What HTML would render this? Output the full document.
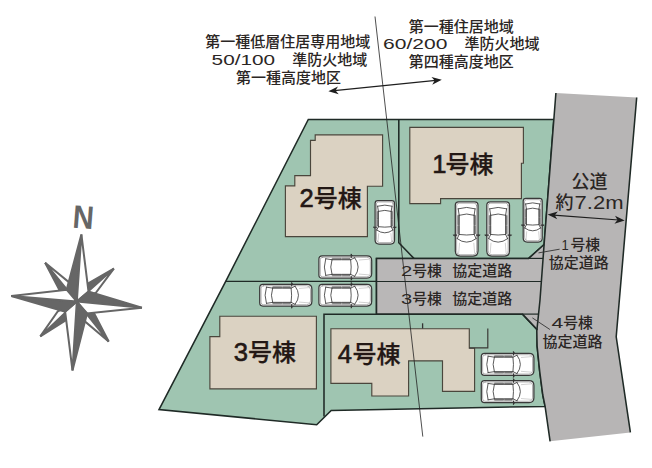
<!DOCTYPE html>
<html lang="ja"><head><meta charset="utf-8"><title>区画図</title>
<style>
html,body{margin:0;padding:0;background:#fff;}
body{width:652px;height:468px;overflow:hidden;}
svg{display:block;font-family:'Liberation Sans','Noto Sans CJK JP',sans-serif;}
</style></head><body>
<svg width="652" height="468" viewBox="0 0 652 468">
<rect width="652" height="468" fill="#fff"/>
<polygon points="308.30,119.40 553.84,119.40 544.10,244.50 528.70,258.40 376.50,258.40 376.50,314.10 522.50,314.10 537.40,329.90 537.10,346.00 539.70,371.30 542.80,395.00 545.10,406.40 331.20,410.40 316.70,424.70 159.00,409.60 225.70,281.30" fill="#9fc5b1" stroke="#1f2a26" stroke-width="1.55" stroke-linejoin="miter"/>
<polygon points="555.90,93.00 636.70,97.50 616.20,336.80 630.40,432.40 550.10,441.30 545.10,406.40 542.80,395.00 539.70,371.30 537.10,346.00 536.80,331.00 540.00,300.00 544.10,244.50" fill="#b7b5b5"/>
<polygon points="376.50,258.40 528.70,258.40 544.10,244.50 540.00,300.00 537.40,329.90 522.50,314.10 376.50,314.10" fill="#b9b7b7"/>
<polyline points="555.90,93.00 544.10,244.50 540.00,300.00 536.80,331.00 537.10,346.00 539.70,371.30 542.80,395.00 545.10,406.40 550.10,441.30" fill="none" stroke="#1f2a26" stroke-width="1.55"/>
<polyline points="636.70,97.50 616.20,336.80 630.40,432.40" fill="none" stroke="#1f2a26" stroke-width="1.55"/>
<polyline points="544.10,244.50 528.70,258.40 376.50,258.40 376.50,314.10 522.50,314.10 537.40,329.90" fill="none" stroke="#1f2a26" stroke-width="1.55"/>
<line x1="528.7" y1="258.4" x2="543.07" y2="258.4" stroke="#1f2a26" stroke-width="1.2"/>
<line x1="522.5" y1="314.1" x2="538.54" y2="314.1" stroke="#1f2a26" stroke-width="1.2"/>
<line x1="376.5" y1="281.5" x2="541.37" y2="281.5" stroke="#1f2a26" stroke-width="1.1"/>
<polyline points="398.80,119.40 398.80,242.70 413.90,258.40" fill="none" stroke="#1f2a26" stroke-width="1.55"/>
<line x1="225.70" y1="281.3" x2="376.5" y2="281.3" stroke="#1f2a26" stroke-width="1.2"/>
<polyline points="376.50,314.30 324.00,314.30 324.00,416.60" fill="none" stroke="#1f2a26" stroke-width="1.55"/>
<polygon points="409.80,127.40 523.40,127.40 523.40,163.20 521.40,163.20 521.40,198.60 440.60,198.60 440.60,203.60 409.80,203.60" fill="#dbd2c2" stroke="#4a463c" stroke-width="1.15"/>
<polygon points="315.20,134.80 382.60,134.80 382.60,186.20 367.40,186.20 367.40,236.60 285.40,236.60 285.40,185.80 294.80,185.80 294.80,175.60 310.50,175.60 310.50,140.30 315.20,140.30" fill="#dbd2c2" stroke="#4a463c" stroke-width="1.15"/>
<polygon points="219.80,316.20 316.40,316.20 316.40,388.90 209.90,388.90 209.90,336.60 219.80,336.60" fill="#dbd2c2" stroke="#4a463c" stroke-width="1.15"/>
<polygon points="330.90,328.70 469.30,328.70 469.30,348.20 474.60,348.20 474.60,391.30 442.50,391.30 442.50,360.80 408.60,360.80 408.60,396.00 371.80,396.00 371.80,383.40 330.90,383.40" fill="#dbd2c2" stroke="#4a463c" stroke-width="1.15"/>
<polyline points="487.80,328.50 487.80,347.80 469.30,347.80" fill="none" stroke="#3a3a36" stroke-width="1.2"/>
<line x1="422.6" y1="323.3" x2="422.6" y2="328.5" stroke="#333" stroke-width="1.3"/>
<g transform="translate(478.00,201.80) rotate(90)" fill="none" stroke-linecap="round" stroke-linejoin="round"><path d="M3.39,0.00 L49.32,0.00 Q54.30,0.00 54.30,4.98 L54.30,17.72 Q54.30,22.70 49.32,22.70 L3.39,22.70 Q0.00,22.70 0.00,19.31 L0.00,3.39 Q0.00,0.00 3.39,0.00 Z" fill="#fff" stroke="#3a3a3a" stroke-width="1.25"/><path d="M3.93,1.35 L48.78,1.35 Q52.95,1.35 52.95,5.52 L52.95,17.18 Q52.95,21.35 48.78,21.35 L3.93,21.35 Q1.35,21.35 1.35,18.77 L1.35,3.93 Q1.35,1.35 3.93,1.35 Z" stroke="#7a7a7a" stroke-width="0.6"/><path d="M13.95,2.39 L22.92,2.39 L22.92,3.88 L13.95,3.88Z" fill="#8f8f8f" stroke="#4a4a4a" stroke-width="0.45"/><path d="M24.11,2.39 L31.88,2.39 L31.88,3.88 L24.11,3.88Z" fill="#8f8f8f" stroke="#4a4a4a" stroke-width="0.45"/><path d="M13.95,18.82 L22.92,18.82 L22.92,20.31 L13.95,20.31Z" fill="#8f8f8f" stroke="#4a4a4a" stroke-width="0.45"/><path d="M24.11,18.82 L31.88,18.82 L31.88,20.31 L24.11,20.31Z" fill="#8f8f8f" stroke="#4a4a4a" stroke-width="0.45"/><path d="M6.97,2.89 Q4.18,11.35 6.97,19.81" stroke="#3d3d3d" stroke-width="0.85" fill="none"/><path d="M13.45,3.88 Q10.86,11.35 13.45,18.82" stroke="#3d3d3d" stroke-width="0.85" fill="none"/><path d="M6.97,2.89 L13.45,3.88" stroke="#3d3d3d" stroke-width="0.85" fill="none"/><path d="M6.97,19.81 L13.45,18.82" stroke="#3d3d3d" stroke-width="0.85" fill="none"/><path d="M13.45,3.88 L32.68,3.88" stroke="#444" stroke-width="0.8" fill="none"/><path d="M13.45,18.82 L32.68,18.82" stroke="#444" stroke-width="0.8" fill="none"/><path d="M32.68,3.88 Q33.78,11.35 32.68,18.82" stroke="#3d3d3d" stroke-width="0.85" fill="none"/><path d="M36.86,1.89 Q44.04,11.35 36.86,20.81" stroke="#3d3d3d" stroke-width="0.85" fill="none"/><path d="M32.68,3.88 L36.86,1.89" stroke="#3d3d3d" stroke-width="0.85" fill="none"/><path d="M32.68,18.82 L36.86,20.81" stroke="#3d3d3d" stroke-width="0.85" fill="none"/><path d="M41.35,4.18 L51.31,3.39" stroke="#a5a5a5" stroke-width="0.5" fill="none"/><path d="M41.35,18.52 L51.31,19.31" stroke="#a5a5a5" stroke-width="0.5" fill="none"/><path d="M33.28,-1.69 L33.28,1.59" stroke="#333" stroke-width="1.1" fill="none"/><path d="M33.28,24.39 L33.28,21.11" stroke="#333" stroke-width="1.1" fill="none"/><path d="M33.28,-1.69 L34.67,-0.30" stroke="#333" stroke-width="0.7" fill="none"/><path d="M33.28,24.39 L34.67,23.00" stroke="#333" stroke-width="0.7" fill="none"/></g>
<g transform="translate(509.50,201.80) rotate(90)" fill="none" stroke-linecap="round" stroke-linejoin="round"><path d="M3.39,0.00 L49.32,0.00 Q54.30,0.00 54.30,4.98 L54.30,17.72 Q54.30,22.70 49.32,22.70 L3.39,22.70 Q0.00,22.70 0.00,19.31 L0.00,3.39 Q0.00,0.00 3.39,0.00 Z" fill="#fff" stroke="#3a3a3a" stroke-width="1.25"/><path d="M3.93,1.35 L48.78,1.35 Q52.95,1.35 52.95,5.52 L52.95,17.18 Q52.95,21.35 48.78,21.35 L3.93,21.35 Q1.35,21.35 1.35,18.77 L1.35,3.93 Q1.35,1.35 3.93,1.35 Z" stroke="#7a7a7a" stroke-width="0.6"/><path d="M13.95,2.39 L22.92,2.39 L22.92,3.88 L13.95,3.88Z" fill="#8f8f8f" stroke="#4a4a4a" stroke-width="0.45"/><path d="M24.11,2.39 L31.88,2.39 L31.88,3.88 L24.11,3.88Z" fill="#8f8f8f" stroke="#4a4a4a" stroke-width="0.45"/><path d="M13.95,18.82 L22.92,18.82 L22.92,20.31 L13.95,20.31Z" fill="#8f8f8f" stroke="#4a4a4a" stroke-width="0.45"/><path d="M24.11,18.82 L31.88,18.82 L31.88,20.31 L24.11,20.31Z" fill="#8f8f8f" stroke="#4a4a4a" stroke-width="0.45"/><path d="M6.97,2.89 Q4.18,11.35 6.97,19.81" stroke="#3d3d3d" stroke-width="0.85" fill="none"/><path d="M13.45,3.88 Q10.86,11.35 13.45,18.82" stroke="#3d3d3d" stroke-width="0.85" fill="none"/><path d="M6.97,2.89 L13.45,3.88" stroke="#3d3d3d" stroke-width="0.85" fill="none"/><path d="M6.97,19.81 L13.45,18.82" stroke="#3d3d3d" stroke-width="0.85" fill="none"/><path d="M13.45,3.88 L32.68,3.88" stroke="#444" stroke-width="0.8" fill="none"/><path d="M13.45,18.82 L32.68,18.82" stroke="#444" stroke-width="0.8" fill="none"/><path d="M32.68,3.88 Q33.78,11.35 32.68,18.82" stroke="#3d3d3d" stroke-width="0.85" fill="none"/><path d="M36.86,1.89 Q44.04,11.35 36.86,20.81" stroke="#3d3d3d" stroke-width="0.85" fill="none"/><path d="M32.68,3.88 L36.86,1.89" stroke="#3d3d3d" stroke-width="0.85" fill="none"/><path d="M32.68,18.82 L36.86,20.81" stroke="#3d3d3d" stroke-width="0.85" fill="none"/><path d="M41.35,4.18 L51.31,3.39" stroke="#a5a5a5" stroke-width="0.5" fill="none"/><path d="M41.35,18.52 L51.31,19.31" stroke="#a5a5a5" stroke-width="0.5" fill="none"/><path d="M33.28,-1.69 L33.28,1.59" stroke="#333" stroke-width="1.1" fill="none"/><path d="M33.28,24.39 L33.28,21.11" stroke="#333" stroke-width="1.1" fill="none"/><path d="M33.28,-1.69 L34.67,-0.30" stroke="#333" stroke-width="0.7" fill="none"/><path d="M33.28,24.39 L34.67,23.00" stroke="#333" stroke-width="0.7" fill="none"/></g>
<g transform="translate(542.20,198.30) rotate(90)" fill="none" stroke-linecap="round" stroke-linejoin="round"><path d="M2.73,0.00 L39.78,0.00 Q43.80,0.00 43.80,4.02 L43.80,14.98 Q43.80,19.00 39.78,19.00 L2.73,19.00 Q0.00,19.00 0.00,16.27 L0.00,2.73 Q0.00,0.00 2.73,0.00 Z" fill="#fff" stroke="#3a3a3a" stroke-width="1.25"/><path d="M3.27,1.35 L39.24,1.35 Q42.45,1.35 42.45,4.56 L42.45,14.44 Q42.45,17.65 39.24,17.65 L3.27,17.65 Q1.35,17.65 1.35,15.73 L1.35,3.27 Q1.35,1.35 3.27,1.35 Z" stroke="#7a7a7a" stroke-width="0.6"/><path d="M11.25,2.00 L18.48,2.00 L18.48,3.25 L11.25,3.25Z" fill="#8f8f8f" stroke="#4a4a4a" stroke-width="0.45"/><path d="M19.45,2.00 L25.72,2.00 L25.72,3.25 L19.45,3.25Z" fill="#8f8f8f" stroke="#4a4a4a" stroke-width="0.45"/><path d="M11.25,15.75 L18.48,15.75 L18.48,17.00 L11.25,17.00Z" fill="#8f8f8f" stroke="#4a4a4a" stroke-width="0.45"/><path d="M19.45,15.75 L25.72,15.75 L25.72,17.00 L19.45,17.00Z" fill="#8f8f8f" stroke="#4a4a4a" stroke-width="0.45"/><path d="M5.63,2.42 Q3.38,9.50 5.63,16.58" stroke="#3d3d3d" stroke-width="0.85" fill="none"/><path d="M10.85,3.25 Q8.76,9.50 10.85,15.75" stroke="#3d3d3d" stroke-width="0.85" fill="none"/><path d="M5.63,2.42 L10.85,3.25" stroke="#3d3d3d" stroke-width="0.85" fill="none"/><path d="M5.63,16.58 L10.85,15.75" stroke="#3d3d3d" stroke-width="0.85" fill="none"/><path d="M10.85,3.25 L26.36,3.25" stroke="#444" stroke-width="0.8" fill="none"/><path d="M10.85,15.75 L26.36,15.75" stroke="#444" stroke-width="0.8" fill="none"/><path d="M26.36,3.25 Q27.24,9.50 26.36,15.75" stroke="#3d3d3d" stroke-width="0.85" fill="none"/><path d="M29.74,1.58 Q35.52,9.50 29.74,17.42" stroke="#3d3d3d" stroke-width="0.85" fill="none"/><path d="M26.36,3.25 L29.74,1.58" stroke="#3d3d3d" stroke-width="0.85" fill="none"/><path d="M26.36,15.75 L29.74,17.42" stroke="#3d3d3d" stroke-width="0.85" fill="none"/><path d="M33.35,3.50 L41.39,2.83" stroke="#a5a5a5" stroke-width="0.5" fill="none"/><path d="M33.35,15.50 L41.39,16.17" stroke="#a5a5a5" stroke-width="0.5" fill="none"/><path d="M26.84,-1.42 L26.84,1.33" stroke="#333" stroke-width="1.1" fill="none"/><path d="M26.84,20.42 L26.84,17.67" stroke="#333" stroke-width="1.1" fill="none"/><path d="M26.84,-1.42 L27.97,-0.25" stroke="#333" stroke-width="0.7" fill="none"/><path d="M26.84,20.42 L27.97,19.25" stroke="#333" stroke-width="0.7" fill="none"/></g>
<g transform="translate(394.50,200.60) rotate(90)" fill="none" stroke-linecap="round" stroke-linejoin="round"><path d="M2.71,0.00 L39.42,0.00 Q43.40,0.00 43.40,3.98 L43.40,15.42 Q43.40,19.40 39.42,19.40 L2.71,19.40 Q0.00,19.40 0.00,16.69 L0.00,2.71 Q0.00,0.00 2.71,0.00 Z" fill="#fff" stroke="#3a3a3a" stroke-width="1.25"/><path d="M3.25,1.35 L38.88,1.35 Q42.05,1.35 42.05,4.52 L42.05,14.88 Q42.05,18.05 38.88,18.05 L3.25,18.05 Q1.35,18.05 1.35,16.15 L1.35,3.25 Q1.35,1.35 3.25,1.35 Z" stroke="#7a7a7a" stroke-width="0.6"/><path d="M11.15,2.04 L18.32,2.04 L18.32,3.32 L11.15,3.32Z" fill="#8f8f8f" stroke="#4a4a4a" stroke-width="0.45"/><path d="M19.27,2.04 L25.48,2.04 L25.48,3.32 L19.27,3.32Z" fill="#8f8f8f" stroke="#4a4a4a" stroke-width="0.45"/><path d="M11.15,16.08 L18.32,16.08 L18.32,17.36 L11.15,17.36Z" fill="#8f8f8f" stroke="#4a4a4a" stroke-width="0.45"/><path d="M19.27,16.08 L25.48,16.08 L25.48,17.36 L19.27,17.36Z" fill="#8f8f8f" stroke="#4a4a4a" stroke-width="0.45"/><path d="M5.57,2.47 Q3.34,9.70 5.57,16.93" stroke="#3d3d3d" stroke-width="0.85" fill="none"/><path d="M10.75,3.32 Q8.68,9.70 10.75,16.08" stroke="#3d3d3d" stroke-width="0.85" fill="none"/><path d="M5.57,2.47 L10.75,3.32" stroke="#3d3d3d" stroke-width="0.85" fill="none"/><path d="M5.57,16.93 L10.75,16.08" stroke="#3d3d3d" stroke-width="0.85" fill="none"/><path d="M10.75,3.32 L26.12,3.32" stroke="#444" stroke-width="0.8" fill="none"/><path d="M10.75,16.08 L26.12,16.08" stroke="#444" stroke-width="0.8" fill="none"/><path d="M26.12,3.32 Q27.00,9.70 26.12,16.08" stroke="#3d3d3d" stroke-width="0.85" fill="none"/><path d="M29.46,1.62 Q35.20,9.70 29.46,17.78" stroke="#3d3d3d" stroke-width="0.85" fill="none"/><path d="M26.12,3.32 L29.46,1.62" stroke="#3d3d3d" stroke-width="0.85" fill="none"/><path d="M26.12,16.08 L29.46,17.78" stroke="#3d3d3d" stroke-width="0.85" fill="none"/><path d="M33.05,3.57 L41.01,2.89" stroke="#a5a5a5" stroke-width="0.5" fill="none"/><path d="M33.05,15.83 L41.01,16.51" stroke="#a5a5a5" stroke-width="0.5" fill="none"/><path d="M26.60,-1.45 L26.60,1.36" stroke="#333" stroke-width="1.1" fill="none"/><path d="M26.60,20.85 L26.60,18.04" stroke="#333" stroke-width="1.1" fill="none"/><path d="M26.60,-1.45 L27.71,-0.26" stroke="#333" stroke-width="0.7" fill="none"/><path d="M26.60,20.85 L27.71,19.66" stroke="#333" stroke-width="0.7" fill="none"/></g>
<g transform="translate(318.90,255.90)" fill="none" stroke-linecap="round" stroke-linejoin="round"><path d="M3.29,0.00 L47.96,0.00 Q52.80,0.00 52.80,4.84 L52.80,17.46 Q52.80,22.30 47.96,22.30 L3.29,22.30 Q0.00,22.30 0.00,19.01 L0.00,3.29 Q0.00,0.00 3.29,0.00 Z" fill="#fff" stroke="#3a3a3a" stroke-width="1.25"/><path d="M3.83,1.35 L47.42,1.35 Q51.45,1.35 51.45,5.38 L51.45,16.92 Q51.45,20.95 47.42,20.95 L3.83,20.95 Q1.35,20.95 1.35,18.47 L1.35,3.83 Q1.35,1.35 3.83,1.35 Z" stroke="#7a7a7a" stroke-width="0.6"/><path d="M13.56,2.35 L22.28,2.35 L22.28,3.81 L13.56,3.81Z" fill="#8f8f8f" stroke="#4a4a4a" stroke-width="0.45"/><path d="M23.45,2.35 L31.00,2.35 L31.00,3.81 L23.45,3.81Z" fill="#8f8f8f" stroke="#4a4a4a" stroke-width="0.45"/><path d="M13.56,18.49 L22.28,18.49 L22.28,19.95 L13.56,19.95Z" fill="#8f8f8f" stroke="#4a4a4a" stroke-width="0.45"/><path d="M23.45,18.49 L31.00,18.49 L31.00,19.95 L23.45,19.95Z" fill="#8f8f8f" stroke="#4a4a4a" stroke-width="0.45"/><path d="M6.78,2.84 Q4.07,11.15 6.78,19.46" stroke="#3d3d3d" stroke-width="0.85" fill="none"/><path d="M13.08,3.81 Q10.56,11.15 13.08,18.49" stroke="#3d3d3d" stroke-width="0.85" fill="none"/><path d="M6.78,2.84 L13.08,3.81" stroke="#3d3d3d" stroke-width="0.85" fill="none"/><path d="M6.78,19.46 L13.08,18.49" stroke="#3d3d3d" stroke-width="0.85" fill="none"/><path d="M13.08,3.81 L31.78,3.81" stroke="#444" stroke-width="0.8" fill="none"/><path d="M13.08,18.49 L31.78,18.49" stroke="#444" stroke-width="0.8" fill="none"/><path d="M31.78,3.81 Q32.84,11.15 31.78,18.49" stroke="#3d3d3d" stroke-width="0.85" fill="none"/><path d="M35.85,1.86 Q42.82,11.15 35.85,20.44" stroke="#3d3d3d" stroke-width="0.85" fill="none"/><path d="M31.78,3.81 L35.85,1.86" stroke="#3d3d3d" stroke-width="0.85" fill="none"/><path d="M31.78,18.49 L35.85,20.44" stroke="#3d3d3d" stroke-width="0.85" fill="none"/><path d="M40.21,4.11 L49.89,3.33" stroke="#a5a5a5" stroke-width="0.5" fill="none"/><path d="M40.21,18.19 L49.89,18.97" stroke="#a5a5a5" stroke-width="0.5" fill="none"/><path d="M32.36,-1.66 L32.36,1.56" stroke="#333" stroke-width="1.1" fill="none"/><path d="M32.36,23.96 L32.36,20.74" stroke="#333" stroke-width="1.1" fill="none"/><path d="M32.36,-1.66 L33.71,-0.29" stroke="#333" stroke-width="0.7" fill="none"/><path d="M32.36,23.96 L33.71,22.59" stroke="#333" stroke-width="0.7" fill="none"/></g>
<g transform="translate(259.70,284.40)" fill="none" stroke-linecap="round" stroke-linejoin="round"><path d="M3.24,0.00 L47.44,0.00 Q52.20,0.00 52.20,4.76 L52.20,16.94 Q52.20,21.70 47.44,21.70 L3.24,21.70 Q0.00,21.70 0.00,18.46 L0.00,3.24 Q0.00,0.00 3.24,0.00 Z" fill="#fff" stroke="#3a3a3a" stroke-width="1.25"/><path d="M3.78,1.35 L46.90,1.35 Q50.85,1.35 50.85,5.30 L50.85,16.40 Q50.85,20.35 46.90,20.35 L3.78,20.35 Q1.35,20.35 1.35,17.92 L1.35,3.78 Q1.35,1.35 3.78,1.35 Z" stroke="#7a7a7a" stroke-width="0.6"/><path d="M13.41,2.28 L22.03,2.28 L22.03,3.71 L13.41,3.71Z" fill="#8f8f8f" stroke="#4a4a4a" stroke-width="0.45"/><path d="M23.18,2.28 L30.65,2.28 L30.65,3.71 L23.18,3.71Z" fill="#8f8f8f" stroke="#4a4a4a" stroke-width="0.45"/><path d="M13.41,17.99 L22.03,17.99 L22.03,19.42 L13.41,19.42Z" fill="#8f8f8f" stroke="#4a4a4a" stroke-width="0.45"/><path d="M23.18,17.99 L30.65,17.99 L30.65,19.42 L23.18,19.42Z" fill="#8f8f8f" stroke="#4a4a4a" stroke-width="0.45"/><path d="M6.70,2.76 Q4.02,10.85 6.70,18.94" stroke="#3d3d3d" stroke-width="0.85" fill="none"/><path d="M12.93,3.71 Q10.44,10.85 12.93,17.99" stroke="#3d3d3d" stroke-width="0.85" fill="none"/><path d="M6.70,2.76 L12.93,3.71" stroke="#3d3d3d" stroke-width="0.85" fill="none"/><path d="M6.70,18.94 L12.93,17.99" stroke="#3d3d3d" stroke-width="0.85" fill="none"/><path d="M12.93,3.71 L31.42,3.71" stroke="#444" stroke-width="0.8" fill="none"/><path d="M12.93,17.99 L31.42,17.99" stroke="#444" stroke-width="0.8" fill="none"/><path d="M31.42,3.71 Q32.47,10.85 31.42,17.99" stroke="#3d3d3d" stroke-width="0.85" fill="none"/><path d="M35.44,1.81 Q42.33,10.85 35.44,19.89" stroke="#3d3d3d" stroke-width="0.85" fill="none"/><path d="M31.42,3.71 L35.44,1.81" stroke="#3d3d3d" stroke-width="0.85" fill="none"/><path d="M31.42,17.99 L35.44,19.89" stroke="#3d3d3d" stroke-width="0.85" fill="none"/><path d="M39.75,4.00 L49.33,3.24" stroke="#a5a5a5" stroke-width="0.5" fill="none"/><path d="M39.75,17.70 L49.33,18.46" stroke="#a5a5a5" stroke-width="0.5" fill="none"/><path d="M31.99,-1.62 L31.99,1.52" stroke="#333" stroke-width="1.1" fill="none"/><path d="M31.99,23.32 L31.99,20.18" stroke="#333" stroke-width="1.1" fill="none"/><path d="M31.99,-1.62 L33.33,-0.29" stroke="#333" stroke-width="0.7" fill="none"/><path d="M31.99,23.32 L33.33,21.99" stroke="#333" stroke-width="0.7" fill="none"/></g>
<g transform="translate(318.90,284.40)" fill="none" stroke-linecap="round" stroke-linejoin="round"><path d="M3.24,0.00 L48.04,0.00 Q52.80,0.00 52.80,4.76 L52.80,16.94 Q52.80,21.70 48.04,21.70 L3.24,21.70 Q0.00,21.70 0.00,18.46 L0.00,3.24 Q0.00,0.00 3.24,0.00 Z" fill="#fff" stroke="#3a3a3a" stroke-width="1.25"/><path d="M3.78,1.35 L47.50,1.35 Q51.45,1.35 51.45,5.30 L51.45,16.40 Q51.45,20.35 47.50,20.35 L3.78,20.35 Q1.35,20.35 1.35,17.92 L1.35,3.78 Q1.35,1.35 3.78,1.35 Z" stroke="#7a7a7a" stroke-width="0.6"/><path d="M13.56,2.28 L22.28,2.28 L22.28,3.71 L13.56,3.71Z" fill="#8f8f8f" stroke="#4a4a4a" stroke-width="0.45"/><path d="M23.45,2.28 L31.00,2.28 L31.00,3.71 L23.45,3.71Z" fill="#8f8f8f" stroke="#4a4a4a" stroke-width="0.45"/><path d="M13.56,17.99 L22.28,17.99 L22.28,19.42 L13.56,19.42Z" fill="#8f8f8f" stroke="#4a4a4a" stroke-width="0.45"/><path d="M23.45,17.99 L31.00,17.99 L31.00,19.42 L23.45,19.42Z" fill="#8f8f8f" stroke="#4a4a4a" stroke-width="0.45"/><path d="M6.78,2.76 Q4.07,10.85 6.78,18.94" stroke="#3d3d3d" stroke-width="0.85" fill="none"/><path d="M13.08,3.71 Q10.56,10.85 13.08,17.99" stroke="#3d3d3d" stroke-width="0.85" fill="none"/><path d="M6.78,2.76 L13.08,3.71" stroke="#3d3d3d" stroke-width="0.85" fill="none"/><path d="M6.78,18.94 L13.08,17.99" stroke="#3d3d3d" stroke-width="0.85" fill="none"/><path d="M13.08,3.71 L31.78,3.71" stroke="#444" stroke-width="0.8" fill="none"/><path d="M13.08,17.99 L31.78,17.99" stroke="#444" stroke-width="0.8" fill="none"/><path d="M31.78,3.71 Q32.84,10.85 31.78,17.99" stroke="#3d3d3d" stroke-width="0.85" fill="none"/><path d="M35.85,1.81 Q42.82,10.85 35.85,19.89" stroke="#3d3d3d" stroke-width="0.85" fill="none"/><path d="M31.78,3.71 L35.85,1.81" stroke="#3d3d3d" stroke-width="0.85" fill="none"/><path d="M31.78,17.99 L35.85,19.89" stroke="#3d3d3d" stroke-width="0.85" fill="none"/><path d="M40.21,4.00 L49.89,3.24" stroke="#a5a5a5" stroke-width="0.5" fill="none"/><path d="M40.21,17.70 L49.89,18.46" stroke="#a5a5a5" stroke-width="0.5" fill="none"/><path d="M32.36,-1.62 L32.36,1.52" stroke="#333" stroke-width="1.1" fill="none"/><path d="M32.36,23.32 L32.36,20.18" stroke="#333" stroke-width="1.1" fill="none"/><path d="M32.36,-1.62 L33.71,-0.29" stroke="#333" stroke-width="0.7" fill="none"/><path d="M32.36,23.32 L33.71,21.99" stroke="#333" stroke-width="0.7" fill="none"/></g>
<g transform="translate(481.30,353.40)" fill="none" stroke-linecap="round" stroke-linejoin="round"><path d="M3.28,0.00 L47.78,0.00 Q52.60,0.00 52.60,4.82 L52.60,17.18 Q52.60,22.00 47.78,22.00 L3.28,22.00 Q0.00,22.00 0.00,18.72 L0.00,3.28 Q0.00,0.00 3.28,0.00 Z" fill="#fff" stroke="#3a3a3a" stroke-width="1.25"/><path d="M3.82,1.35 L47.24,1.35 Q51.25,1.35 51.25,5.36 L51.25,16.64 Q51.25,20.65 47.24,20.65 L3.82,20.65 Q1.35,20.65 1.35,18.18 L1.35,3.82 Q1.35,1.35 3.82,1.35 Z" stroke="#7a7a7a" stroke-width="0.6"/><path d="M13.51,2.32 L22.20,2.32 L22.20,3.76 L13.51,3.76Z" fill="#8f8f8f" stroke="#4a4a4a" stroke-width="0.45"/><path d="M23.36,2.32 L30.88,2.32 L30.88,3.76 L23.36,3.76Z" fill="#8f8f8f" stroke="#4a4a4a" stroke-width="0.45"/><path d="M13.51,18.24 L22.20,18.24 L22.20,19.68 L13.51,19.68Z" fill="#8f8f8f" stroke="#4a4a4a" stroke-width="0.45"/><path d="M23.36,18.24 L30.88,18.24 L30.88,19.68 L23.36,19.68Z" fill="#8f8f8f" stroke="#4a4a4a" stroke-width="0.45"/><path d="M6.76,2.80 Q4.05,11.00 6.76,19.20" stroke="#3d3d3d" stroke-width="0.85" fill="none"/><path d="M13.03,3.76 Q10.52,11.00 13.03,18.24" stroke="#3d3d3d" stroke-width="0.85" fill="none"/><path d="M6.76,2.80 L13.03,3.76" stroke="#3d3d3d" stroke-width="0.85" fill="none"/><path d="M6.76,19.20 L13.03,18.24" stroke="#3d3d3d" stroke-width="0.85" fill="none"/><path d="M13.03,3.76 L31.66,3.76" stroke="#444" stroke-width="0.8" fill="none"/><path d="M13.03,18.24 L31.66,18.24" stroke="#444" stroke-width="0.8" fill="none"/><path d="M31.66,3.76 Q32.72,11.00 31.66,18.24" stroke="#3d3d3d" stroke-width="0.85" fill="none"/><path d="M35.71,1.83 Q42.66,11.00 35.71,20.17" stroke="#3d3d3d" stroke-width="0.85" fill="none"/><path d="M31.66,3.76 L35.71,1.83" stroke="#3d3d3d" stroke-width="0.85" fill="none"/><path d="M31.66,18.24 L35.71,20.17" stroke="#3d3d3d" stroke-width="0.85" fill="none"/><path d="M40.05,4.05 L49.70,3.28" stroke="#a5a5a5" stroke-width="0.5" fill="none"/><path d="M40.05,17.95 L49.70,18.72" stroke="#a5a5a5" stroke-width="0.5" fill="none"/><path d="M32.24,-1.64 L32.24,1.54" stroke="#333" stroke-width="1.1" fill="none"/><path d="M32.24,23.64 L32.24,20.46" stroke="#333" stroke-width="1.1" fill="none"/><path d="M32.24,-1.64 L33.59,-0.29" stroke="#333" stroke-width="0.7" fill="none"/><path d="M32.24,23.64 L33.59,22.29" stroke="#333" stroke-width="0.7" fill="none"/></g>
<g transform="translate(481.30,380.60)" fill="none" stroke-linecap="round" stroke-linejoin="round"><path d="M3.28,0.00 L47.78,0.00 Q52.60,0.00 52.60,4.82 L52.60,17.18 Q52.60,22.00 47.78,22.00 L3.28,22.00 Q0.00,22.00 0.00,18.72 L0.00,3.28 Q0.00,0.00 3.28,0.00 Z" fill="#fff" stroke="#3a3a3a" stroke-width="1.25"/><path d="M3.82,1.35 L47.24,1.35 Q51.25,1.35 51.25,5.36 L51.25,16.64 Q51.25,20.65 47.24,20.65 L3.82,20.65 Q1.35,20.65 1.35,18.18 L1.35,3.82 Q1.35,1.35 3.82,1.35 Z" stroke="#7a7a7a" stroke-width="0.6"/><path d="M13.51,2.32 L22.20,2.32 L22.20,3.76 L13.51,3.76Z" fill="#8f8f8f" stroke="#4a4a4a" stroke-width="0.45"/><path d="M23.36,2.32 L30.88,2.32 L30.88,3.76 L23.36,3.76Z" fill="#8f8f8f" stroke="#4a4a4a" stroke-width="0.45"/><path d="M13.51,18.24 L22.20,18.24 L22.20,19.68 L13.51,19.68Z" fill="#8f8f8f" stroke="#4a4a4a" stroke-width="0.45"/><path d="M23.36,18.24 L30.88,18.24 L30.88,19.68 L23.36,19.68Z" fill="#8f8f8f" stroke="#4a4a4a" stroke-width="0.45"/><path d="M6.76,2.80 Q4.05,11.00 6.76,19.20" stroke="#3d3d3d" stroke-width="0.85" fill="none"/><path d="M13.03,3.76 Q10.52,11.00 13.03,18.24" stroke="#3d3d3d" stroke-width="0.85" fill="none"/><path d="M6.76,2.80 L13.03,3.76" stroke="#3d3d3d" stroke-width="0.85" fill="none"/><path d="M6.76,19.20 L13.03,18.24" stroke="#3d3d3d" stroke-width="0.85" fill="none"/><path d="M13.03,3.76 L31.66,3.76" stroke="#444" stroke-width="0.8" fill="none"/><path d="M13.03,18.24 L31.66,18.24" stroke="#444" stroke-width="0.8" fill="none"/><path d="M31.66,3.76 Q32.72,11.00 31.66,18.24" stroke="#3d3d3d" stroke-width="0.85" fill="none"/><path d="M35.71,1.83 Q42.66,11.00 35.71,20.17" stroke="#3d3d3d" stroke-width="0.85" fill="none"/><path d="M31.66,3.76 L35.71,1.83" stroke="#3d3d3d" stroke-width="0.85" fill="none"/><path d="M31.66,18.24 L35.71,20.17" stroke="#3d3d3d" stroke-width="0.85" fill="none"/><path d="M40.05,4.05 L49.70,3.28" stroke="#a5a5a5" stroke-width="0.5" fill="none"/><path d="M40.05,17.95 L49.70,18.72" stroke="#a5a5a5" stroke-width="0.5" fill="none"/><path d="M32.24,-1.64 L32.24,1.54" stroke="#333" stroke-width="1.1" fill="none"/><path d="M32.24,23.64 L32.24,20.46" stroke="#333" stroke-width="1.1" fill="none"/><path d="M32.24,-1.64 L33.59,-0.29" stroke="#333" stroke-width="0.7" fill="none"/><path d="M32.24,23.64 L33.59,22.29" stroke="#333" stroke-width="0.7" fill="none"/></g>
<line x1="375" y1="16.5" x2="422.8" y2="436.6" stroke="#222" stroke-width="0.8"/>
<line x1="334.37" y1="90.69" x2="435.83" y2="80.41" stroke="#1e1e1e" stroke-width="1.15"/>
<polygon points="441.80,79.80 432.24,84.69 434.64,80.53 431.46,76.93" fill="#1e1e1e"/>
<polygon points="328.40,91.30 338.74,94.17 335.56,90.57 337.96,86.41" fill="#1e1e1e"/>
<line x1="553.58" y1="215.06" x2="618.72" y2="220.04" stroke="#1e1e1e" stroke-width="1.15"/>
<polygon points="624.70,220.50 614.43,223.63 617.52,219.95 615.03,215.85" fill="#1e1e1e"/>
<polygon points="547.60,214.60 557.27,219.25 554.78,215.15 557.87,211.47" fill="#1e1e1e"/>
<line x1="559.6" y1="249.2" x2="538.5" y2="252.9" stroke="#333" stroke-width="0.9"/>
<line x1="549.9" y1="329.5" x2="532.4" y2="317.9" stroke="#333" stroke-width="0.9"/>
<text x="205.2" y="46.9" font-size="15" font-weight="500" text-anchor="start" fill="#2b2624" >第一種低層住居専用地域</text>
<text x="211.6" y="64.9" font-size="15" font-weight="400" text-anchor="start" fill="#2b2624" textLength="63.5" lengthAdjust="spacingAndGlyphs">50/100</text>
<text x="292.2" y="64.9" font-size="15" font-weight="500" text-anchor="start" fill="#2b2624" >準防火地域</text>
<text x="235.9" y="83.3" font-size="15" font-weight="500" text-anchor="start" fill="#2b2624" >第一種高度地区</text>
<text x="408.8" y="31.8" font-size="15" font-weight="500" text-anchor="start" fill="#2b2624" >第一種住居地域</text>
<text x="383.1" y="49.3" font-size="15" font-weight="400" text-anchor="start" fill="#2b2624" textLength="64.3" lengthAdjust="spacingAndGlyphs">60/200</text>
<text x="464.6" y="49.3" font-size="15" font-weight="500" text-anchor="start" fill="#2b2624" >準防火地域</text>
<text x="408.8" y="67.3" font-size="15" font-weight="500" text-anchor="start" fill="#2b2624" >第四種高度地区</text>
<text x="432.3" y="173.0" font-size="25.6" font-weight="400" fill="#231815" stroke="#231815" stroke-width="0.6">1</text>
<text x="445.6" y="173.0" font-size="24" font-weight="500" fill="#231815" stroke="#231815" stroke-width="0.25">号棟</text>
<text x="299.4" y="206.7" font-size="25.6" font-weight="400" fill="#231815" stroke="#231815" stroke-width="0.6">2</text>
<text x="313.7" y="206.7" font-size="24" font-weight="500" fill="#231815" stroke="#231815" stroke-width="0.25">号棟</text>
<text x="233.7" y="361.3" font-size="25.6" font-weight="400" fill="#231815" stroke="#231815" stroke-width="0.6">3</text>
<text x="248.0" y="361.3" font-size="24" font-weight="500" fill="#231815" stroke="#231815" stroke-width="0.25">号棟</text>
<text x="337.8" y="362.6" font-size="25.6" font-weight="400" fill="#231815" stroke="#231815" stroke-width="0.6">4</text>
<text x="352.5" y="362.6" font-size="24" font-weight="500" fill="#231815" stroke="#231815" stroke-width="0.25">号棟</text>
<text x="571.5" y="187.8" font-size="18" font-weight="500" text-anchor="start" fill="#2b2624" >公道</text>
<text x="555.6" y="208.8" font-size="18" font-weight="500" text-anchor="start" fill="#2b2624" >約</text>
<text x="574.5" y="208.8" font-size="18" font-weight="400" text-anchor="start" fill="#2b2624" textLength="49" lengthAdjust="spacingAndGlyphs">7.2m</text>
<text x="561.6" y="249.6" font-size="15.5" font-weight="400" text-anchor="start" fill="#2b2624" textLength="7.2" lengthAdjust="spacingAndGlyphs">1</text>
<text x="570.5" y="249.6" font-size="14.8" font-weight="500" text-anchor="start" fill="#2b2624" >号棟</text>
<text x="548.8" y="267.7" font-size="15" font-weight="500" text-anchor="start" fill="#2b2624" >協定道路</text>
<text x="551.6" y="328.2" font-size="15.5" font-weight="400" text-anchor="start" fill="#2b2624" textLength="11.8" lengthAdjust="spacingAndGlyphs">4</text>
<text x="563.2" y="328.2" font-size="14.8" font-weight="500" text-anchor="start" fill="#2b2624" >号棟</text>
<text x="542.4" y="347.0" font-size="15" font-weight="500" text-anchor="start" fill="#2b2624" >協定道路</text>
<text x="401.0" y="276.4" font-size="15.5" font-weight="400" text-anchor="start" fill="#2b2624" textLength="11.2" lengthAdjust="spacingAndGlyphs">2</text>
<text x="412.3" y="276.4" font-size="14.8" font-weight="500" text-anchor="start" fill="#2b2624" >号棟</text>
<text x="452.2" y="276.4" font-size="15" font-weight="500" text-anchor="start" fill="#2b2624" >協定道路</text>
<text x="401.0" y="303.5" font-size="15.5" font-weight="400" text-anchor="start" fill="#2b2624" textLength="11.2" lengthAdjust="spacingAndGlyphs">3</text>
<text x="412.3" y="303.5" font-size="14.8" font-weight="500" text-anchor="start" fill="#2b2624" >号棟</text>
<text x="452.2" y="303.5" font-size="15" font-weight="500" text-anchor="start" fill="#2b2624" >協定道路</text>
<g transform="translate(76.8,301.6) rotate(0)" stroke="#666" stroke-width="2.0" stroke-linejoin="miter"><polygon points="0.00,0.00 11.22,-18.10 37.03,-33.00" fill="#666"/><polygon points="0.00,0.00 37.03,-33.00 19.27,-9.07" fill="#fff"/><polygon points="0.00,0.00 17.47,12.19 31.88,39.94" fill="#666"/><polygon points="0.00,0.00 31.88,39.94 8.01,19.74" fill="#fff"/><polygon points="0.00,0.00 -10.62,18.46 -36.50,34.76" fill="#666"/><polygon points="0.00,0.00 -36.50,34.76 -18.96,9.70" fill="#fff"/><polygon points="0.00,0.00 -17.60,-12.00 -31.66,-38.82" fill="#666"/><polygon points="0.00,0.00 -31.66,-38.82 -8.22,-19.65" fill="#fff"/><polygon points="0.00,0.00 -10.19,-11.68 4.58,-67.14" fill="#666"/><polygon points="0.00,0.00 4.58,-67.14 11.68,-10.19" fill="#fff"/><polygon points="0.00,0.00 11.93,-9.90 65.12,6.04" fill="#666"/><polygon points="0.00,0.00 65.12,6.04 9.90,11.93" fill="#fff"/><polygon points="0.00,0.00 10.25,11.63 -4.33,68.86" fill="#666"/><polygon points="0.00,0.00 -4.33,68.86 -11.63,10.25" fill="#fff"/><polygon points="0.00,0.00 -11.86,9.98 -65.46,-5.61" fill="#666"/><polygon points="0.00,0.00 -65.46,-5.61 -9.98,-11.86" fill="#fff"/></g>
<text transform="translate(82.6,228.4) rotate(4.5) scale(0.9,1)" x="0" y="0" font-size="32.4" font-weight="700" text-anchor="middle" fill="#666" font-family="'Liberation Sans',sans-serif">N</text>
</svg>
</body></html>
